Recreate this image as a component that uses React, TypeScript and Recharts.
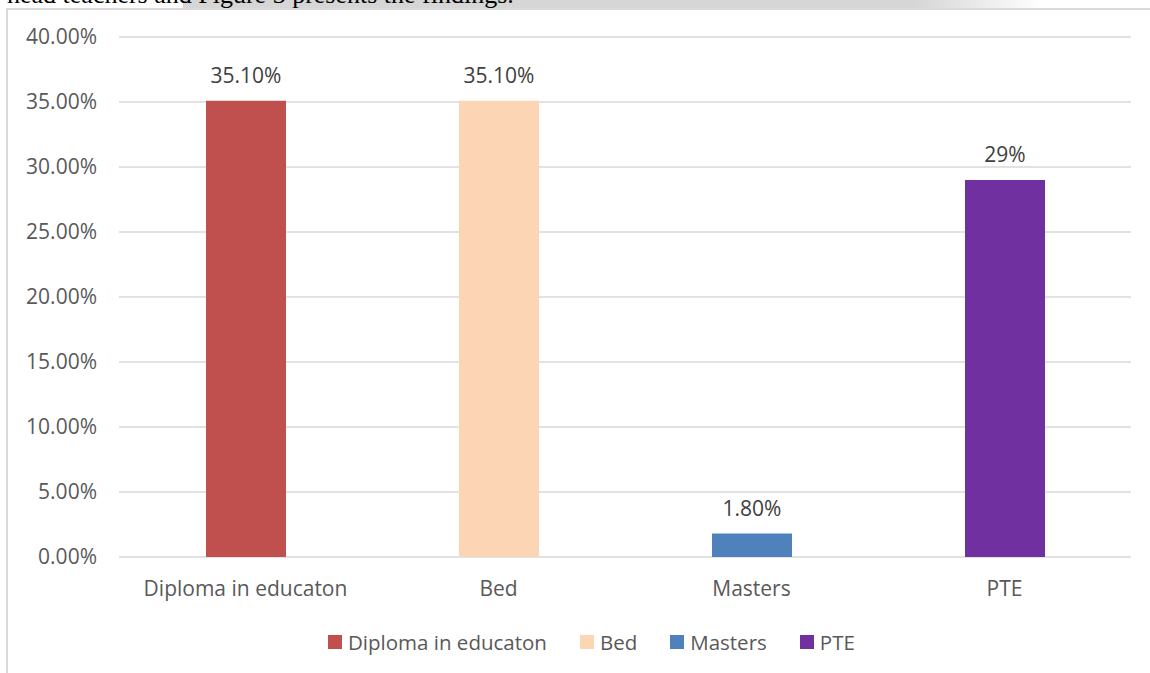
import React from 'react';
import { BarChart, Bar, XAxis, YAxis, CartesianGrid, Cell, LabelList } from 'recharts';

const categories = ['Diploma in educaton', 'Bed', 'Masters', 'PTE'];
const values = [0.351, 0.351, 0.018, 0.29];
const valueLabels = ['35.10%', '35.10%', '1.80%', '29%'];
const colors = ['#C0504D', '#FCD5B5', '#4F81BD', '#7030A0'];
const yTicks = [0, 0.05, 0.1, 0.15, 0.2, 0.25, 0.3, 0.35, 0.4];
const topText = 'head teachers and Figure 3 presents the findings.';

const data = categories.map((c, i) => ({ name: c, value: values[i], label: valueLabels[i] }));

const FONT = '"Open Sans", sans-serif';

export default function App() {
  return (
    <div
      style={{
        position: 'absolute',
        left: 0,
        top: 0,
        width: 1150,
        height: 673,
        background: '#fff',
        overflow: 'hidden',
        fontFamily: FONT,
      }}
    >
      <div
        style={{
          position: 'absolute',
          left: 183,
          top: 0,
          width: 860,
          height: 8,
          background: 'linear-gradient(to right, #d6d6d6 0%, #d6d6d6 85%, #ffffff 100%)',
        }}
      />
      <div
        style={{
          position: 'absolute',
          left: 7,
          top: -18,
          fontFamily: '"Liberation Serif", "Times New Roman", serif',
          fontSize: 26,
          lineHeight: '26px',
          color: '#000',
          whiteSpace: 'nowrap',
        }}
      >
        {topText}
      </div>
      <div style={{ position: 'absolute', left: 6, top: 8, width: 2, height: 665, background: '#d9d9d9' }} />
      <div style={{ position: 'absolute', left: 6, top: 8, width: 1144, height: 2, background: '#d9d9d9' }} />
      <div style={{ position: 'absolute', left: 0, top: 0 }}>
        <BarChart
          width={1150}
          height={673}
          data={data}
          margin={{ top: 37, right: 19, left: 0, bottom: 0 }}
          style={{ fontFamily: FONT }}
        >
          <CartesianGrid vertical={false} stroke="#d9d9d9" strokeWidth={1.5} />
          <XAxis
            dataKey="name"
            height={116}
            axisLine={false}
            tickLine={false}
            tickSize={0}
            tickMargin={24}
            interval={0}
            tick={{ fontSize: 21, fill: '#595959', fontFamily: FONT }}
          />
          <YAxis
            width={119}
            domain={[0, 0.4]}
            ticks={yTicks}
            axisLine={false}
            tickLine={false}
            tickSize={0}
            tickMargin={22}
            tickFormatter={(v: number) => (v * 100).toFixed(2) + '%'}
            tick={{ fontSize: 21, fill: '#595959', fontFamily: FONT }}
          />
          <Bar dataKey="value" barSize={80} isAnimationActive={false}>
            {data.map((d, i) => (
              <Cell key={d.name} fill={colors[i]} />
            ))}
            <LabelList
              dataKey="label"
              position="top"
              offset={18}
              fill="#404040"
              fontSize={21}
              fontFamily={FONT}
            />
          </Bar>
        </BarChart>
      </div>
      <div
        style={{
          position: 'absolute',
          left: 328,
          top: 628,
          height: 28,
          display: 'flex',
          alignItems: 'center',
          fontSize: 20.5,
          color: '#595959',
          fontFamily: FONT,
          whiteSpace: 'nowrap',
        }}
      >
        {categories.map((c, i) => (
          <div key={c} style={{ display: 'flex', alignItems: 'center', marginRight: 33 }}>
            <div style={{ width: 14, height: 14, background: colors[i], marginRight: 6 }} />
            <span>{c}</span>
          </div>
        ))}
      </div>
    </div>
  );
}
